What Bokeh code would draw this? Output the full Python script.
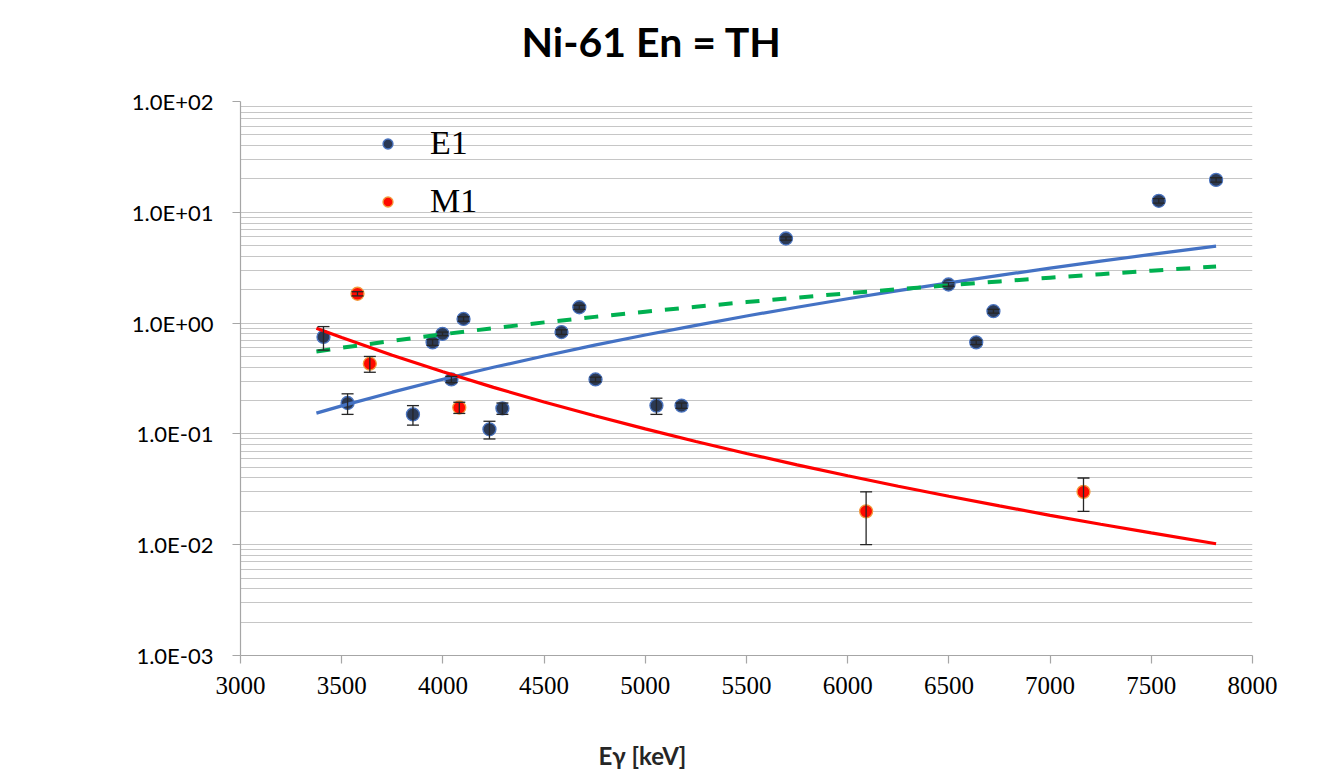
from bokeh.plotting import figure
from bokeh.models import (ColumnDataSource, Whisker, TeeHead, FixedTicker,
                          CustomJSTickFormatter, Legend, LegendItem, Range1d, Title)
from bokeh.embed import file_html
from bokeh.resources import INLINE

# ---------------- data ----------------
e1_energy = [3410, 3529, 3852, 3949, 3998, 4042, 4102, 4230, 4294, 4586,
             4674, 4754, 5055, 5179, 5695, 6498, 6635, 6720, 7537, 7820]
e1_strength = [0.75, 0.19, 0.15, 0.67, 0.80, 0.31, 1.09, 0.11, 0.17, 0.83,
               1.39, 0.31, 0.18, 0.18, 5.8, 2.23, 0.67, 1.28, 12.7, 19.6]
e1_error = [0.18, 0.04, 0.03, 0.04, 0.03, 0.02, 0.05, 0.02, 0.02, 0.04,
            0.06, 0.015, 0.03, 0.01, 0.2, 0.08, 0.03, 0.05, 0.6, 0.9]

m1_energy = [3578, 3639, 4081, 6091, 7165]
m1_strength = [1.84, 0.43, 0.173, 0.020, 0.030]
m1_error = [0.08, 0.07, 0.02, 0.010, 0.010]

curve_energy = [3375, 3500, 3750, 4000, 4250, 4500, 4750, 5000, 5250, 5500,
                5750, 6000, 6250, 6500, 6750, 7000, 7250, 7500, 7820]
e1_model = [0.154, 0.179, 0.238, 0.311, 0.399, 0.505, 0.632, 0.781, 0.955, 1.158,
            1.391, 1.658, 1.962, 2.307, 2.696, 3.133, 3.622, 4.166, 4.951]
m1_model = [0.90, 0.741, 0.513, 0.364, 0.263, 0.194, 0.146, 0.111, 0.0854, 0.0666,
            0.0526, 0.0419, 0.0337, 0.0274, 0.0224, 0.0184, 0.0153, 0.0128, 0.0102]
green_model = [0.555, 0.599, 0.692, 0.793, 0.901, 1.015, 1.138, 1.267, 1.404, 1.548,
               1.699, 1.858, 2.024, 2.198, 2.379, 2.568, 2.765, 2.969, 3.241]

x_ticks = [3000, 3500, 4000, 4500, 5000, 5500, 6000, 6500, 7000, 7500, 8000]
y_ticks = [1e-3, 1e-2, 1e-1, 1e0, 1e1, 1e2]
y_minor = [m * 10.0 ** e for e in range(-3, 2) for m in range(2, 10)]

# ---------------- figure ----------------
p = figure(width=1322, height=775, y_axis_type="log",
           x_range=Range1d(3000, 8000), y_range=Range1d(1e-3, 1e2),
           output_backend="svg", toolbar_location=None,
           min_border_left=240, min_border_right=70,
           min_border_top=101, min_border_bottom=120)
p.outline_line_color = None
p.background_fill_color = "white"
p.border_fill_color = "white"

p.title = Title(text="Ni-61 En = TH", align="left", offset=281, standoff=0,
                vertical_align="bottom",
                padding=dict(left=0, right=0, top=0, bottom=36),
                text_font="Lato", text_font_size="41px", text_font_style="bold",
                text_color="black")

# grids
p.xgrid.grid_line_color = None
p.ygrid.ticker = FixedTicker(ticks=y_ticks, minor_ticks=y_minor)
p.ygrid.grid_line_color = "#c6c6c6"
p.ygrid.grid_line_width = 1.2
p.ygrid.minor_grid_line_color = "#c6c6c6"
p.ygrid.minor_grid_line_width = 1.2

# axes
p.yaxis.ticker = FixedTicker(ticks=y_ticks, minor_ticks=[])
p.yaxis.formatter = CustomJSTickFormatter(code="""
const s = tick.toExponential(1).toUpperCase();
const parts = s.split("E");
let e = parts[1];
const sign = e[0];
let d = e.slice(1);
if (d.length < 2) { d = "0" + d; }
return parts[0] + "E" + sign + d;
""")
p.xaxis.ticker = FixedTicker(ticks=x_ticks, minor_ticks=[])
for ax in (p.xaxis, p.yaxis):
    ax.axis_line_color = "#a6a6a6"
    ax.axis_line_width = 1.2
    ax.major_tick_line_color = "#a6a6a6"
    ax.major_tick_line_width = 1.2
    ax.major_tick_out = 8
    ax.major_tick_in = 0
    ax.minor_tick_line_color = None
    ax.major_label_text_color = "black"

p.yaxis.major_label_text_font = "Lato"
p.yaxis.major_label_text_font_size = "22px"
p.yaxis.major_label_standoff = 19

p.xaxis.major_label_text_font = "Liberation Serif"
p.xaxis.major_label_text_font_size = "25px"
p.xaxis.major_label_standoff = 13

# x-axis title, centred under the chart as in the reference
p.add_layout(Title(text="Eγ [keV]", align="left", offset=358, standoff=0,
                   vertical_align="bottom",
                   padding=dict(left=0, right=0, top=42, bottom=0),
                   text_font="Lato", text_font_size="24px", text_font_style="bold",
                   text_color="#262626"), "below")

# ---------------- error bars ----------------
e1_src = ColumnDataSource(dict(
    x=e1_energy, y=e1_strength,
    upper=[v + e for v, e in zip(e1_strength, e1_error)],
    lower=[v - e for v, e in zip(e1_strength, e1_error)]))
m1_src = ColumnDataSource(dict(
    x=m1_energy, y=m1_strength,
    upper=[v + e for v, e in zip(m1_strength, m1_error)],
    lower=[v - e for v, e in zip(m1_strength, m1_error)]))

for src in (e1_src, m1_src):
    w = Whisker(source=src, base="x", upper="upper", lower="lower",
                dimension="height", line_color="#262626", line_width=1.3,
                upper_head=TeeHead(size=12, line_color="#262626", line_width=1.3),
                lower_head=TeeHead(size=12, line_color="#262626", line_width=1.3))
    w.level = "glyph"
    p.add_layout(w)

# ---------------- points ----------------
r_e1 = p.scatter("x", "y", source=e1_src, size=13, marker="circle",
                 fill_color="#2b3954", line_color="#4a74c0", line_width=1.3)
r_m1 = p.scatter("x", "y", source=m1_src, size=13, marker="circle",
                 fill_color="#ff0a00", line_color="#f39a3c", line_width=1.3)

# ---------------- model curves ----------------
p.line(curve_energy, e1_model, line_color="#4472c4", line_width=3.2)
p.line(curve_energy, m1_model, line_color="#ff0000", line_width=3.2)
p.line(curve_energy, green_model, line_color="#00b050", line_width=4,
       line_dash="14 13")

# ---------------- legend ----------------
legend = Legend(items=[LegendItem(label="E1", renderers=[r_e1]),
                       LegendItem(label="M1", renderers=[r_m1])],
                location=(135, 435), orientation="vertical",
                glyph_width=25, glyph_height=25, label_standoff=30,
                spacing=20, padding=0, margin=0,
                label_text_font="Liberation Serif", label_text_font_size="34px",
                label_text_color="black",
                background_fill_alpha=0, border_line_color=None)
p.add_layout(legend)

open("out.html", "w").write(file_html(p, INLINE))
